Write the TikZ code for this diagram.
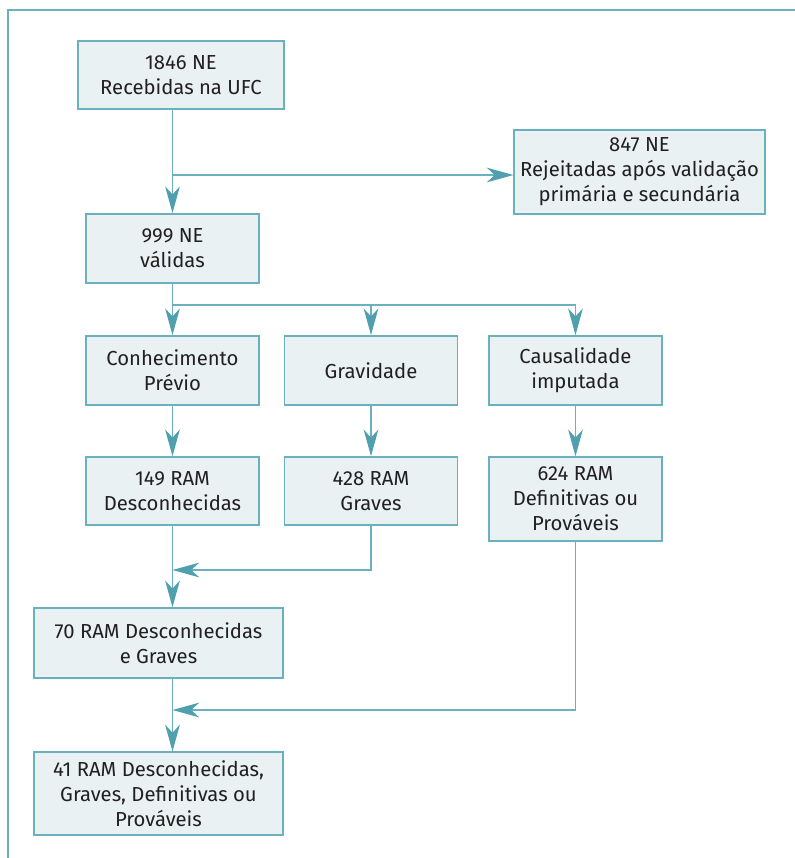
\documentclass[tikz,border=0pt]{standalone}
\usepackage{fontspec}
\setmainfont{Fira Sans}
\usetikzlibrary{arrows.meta,positioning,calc}
\definecolor{boxfill}{HTML}{E9F1F3}
\definecolor{boxline}{HTML}{6BB0BE}
\definecolor{tipcol}{HTML}{4F9FAE}
\definecolor{txt}{HTML}{231F20}
\begin{document}
\begin{tikzpicture}
[x=0.75pt, y=-0.75pt, font=\fontsize{15.2}{18.75}\selectfont, text=txt,
>={Stealth[length=20pt, width=11pt, inset=6pt, color=tipcol]},
flow/.style={draw=boxline, line width=1.1pt},
box/.style={rectangle, draw=boxline, fill=boxfill, line width=1.1pt, align=center, inner sep=0pt, minimum width=130pt, minimum height=52pt},
boxtall/.style={box, minimum height=63pt},
boxwide/.style={box, minimum width=187pt}]

\useasboundingbox (0,0) rectangle (795,858);
\draw[flow] (795,10) -- (8,10) -- (8,858);

\node[box, minimum width=154.5pt, minimum height=51pt] (recv) at (181,75) {1846 NE\\Recebidas na UFC};
\node[boxtall, minimum width=188pt] (rej) at (639.5,172) {847 NE\\Rejeitadas após validação\\primária e secundária};
\node[box] (valid) at (172.5,248.5) {999 NE\\válidas};

\node[box] (prior) at (172.5,370.5) {Conhecimento\\Prévio};
\node[box] (sev) at (371,370.5) {Gravidade};
\node[box] (caus) at (575.5,370.5) {Causalidade\\imputada};

\node[box, minimum height=51pt] (unk) at (172.5,491) {149 RAM\\Desconhecidas};
\node[box, minimum height=51pt] (grave) at (371,491) {428 RAM\\Graves};
\node[boxtall] (defin) at (575.5,499) {624 RAM\\Definitivas ou\\Prováveis};

\node[boxwide, minimum height=52.5pt] (ug) at (158.5,643) {70 RAM Desconhecidas\\e Graves};
\node[boxwide, minimum height=62pt] (final) at (158.5,793.5) {41 RAM Desconhecidas,\\Graves, Definitivas ou\\Prováveis};

\coordinate (split) at (172.5,305);
\coordinate (join1) at (172.5,570);
\coordinate (join2) at (172.5,710);

\draw[flow, ->] (recv.south -| valid.north) -- (valid.north);
\draw[flow, ->] (valid.north |- 0,175) -- (rej.west |- 0,175);

\draw[flow] (valid.south) -- (split);
\draw[flow, ->] (split) -- (prior.north);
\draw[flow, ->] (split) -| (sev.north);
\draw[flow, ->] (split) -| (caus.north);

\draw[flow, ->] (prior.south) -- (unk.north);
\draw[flow, ->] (sev.south) -- (grave.north);
\draw[flow, ->] (caus.south) -- (defin.north);

\draw[flow, ->] (unk.south) -- (unk.south |- ug.north);
\draw[flow, ->] (grave.south) |- (join1);
\draw[flow, ->] (ug.south -| join2) -- (join2 |- final.north);
\draw[flow, ->] (defin.south) |- (join2);
\end{tikzpicture}
\end{document}
